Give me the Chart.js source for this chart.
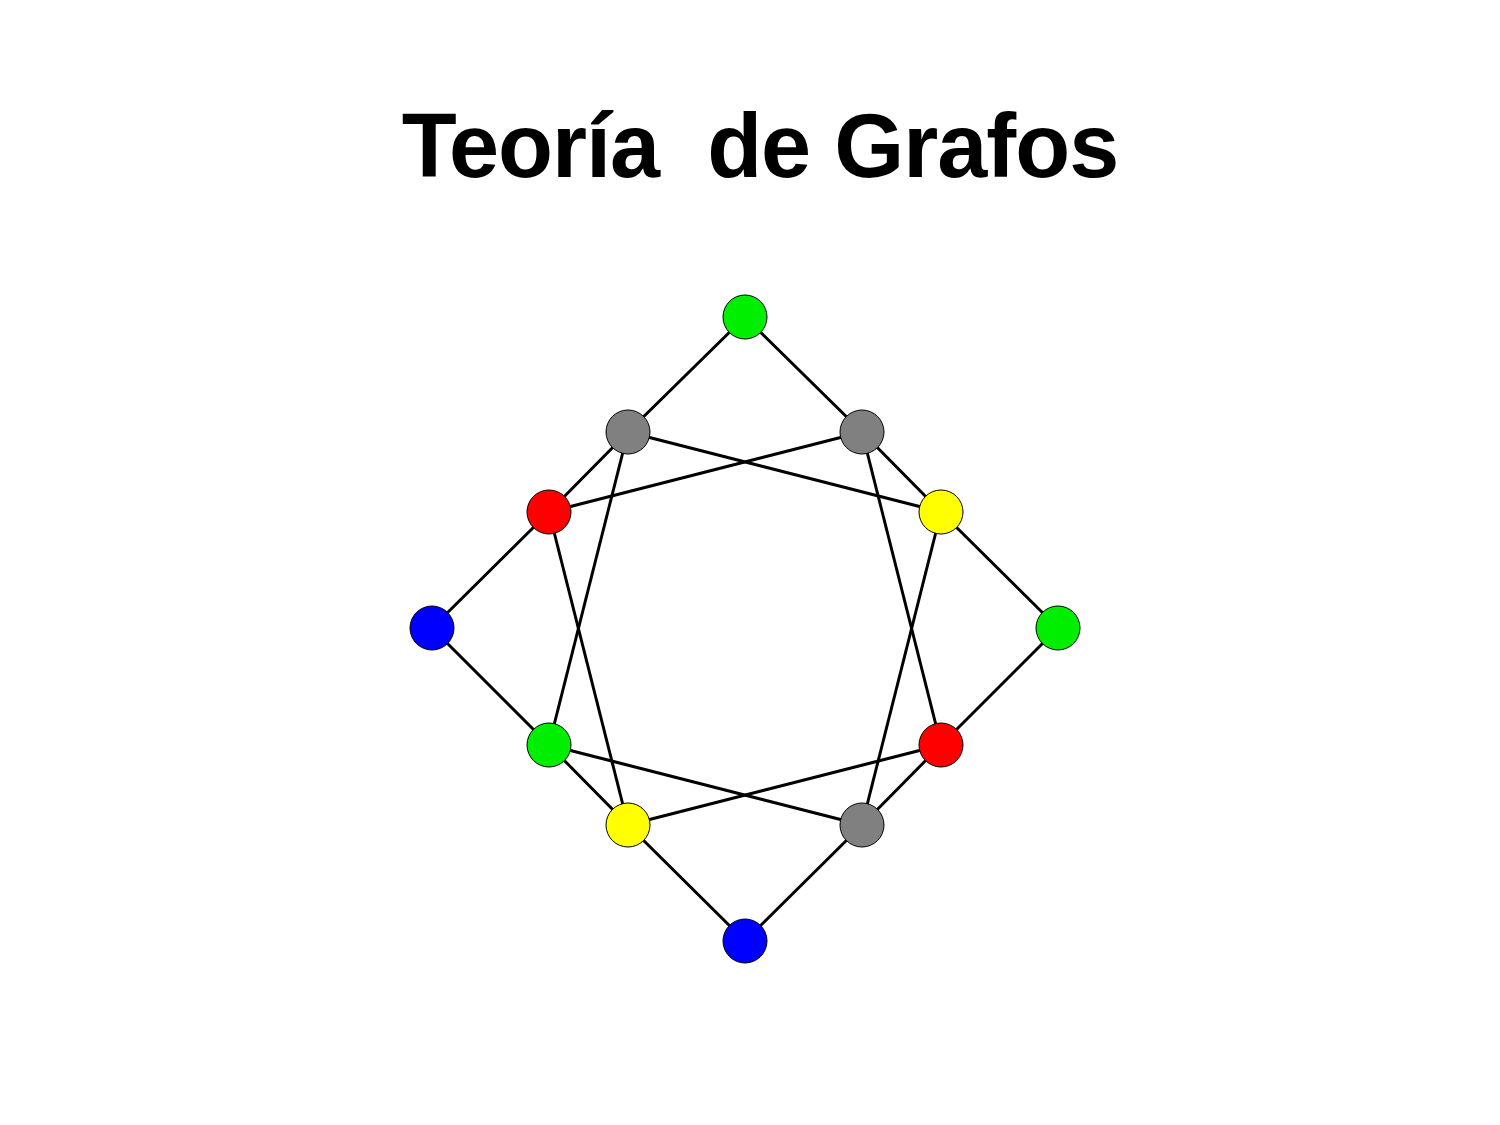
<!DOCTYPE html>
<html>
<head>
<meta charset="utf-8">
<script src="https://cdn.jsdelivr.net/npm/chart.js@4"></script>
<style>
  body { margin: 0; background: #fff; }
  #wrap { position: relative; width: 1500px; height: 1125px; }
  h1 {
    position: absolute; left: 0; top: 96px; width: 1500px; margin: 0;
    text-align: center; font-family: "Liberation Sans", Arial, sans-serif;
    font-weight: bold; font-size: 90px; line-height: 100px; color: #000;
    letter-spacing: -1px; padding-left: 10px;
  }
</style>
</head>
<body>
<div id="wrap">
  <canvas id="c" width="1500" height="1125"></canvas>
  <h1>Teoría&nbsp; de Grafos</h1>
</div>
<script>
// vertices (page coordinates), colour of each
const nodeX = [745, 628, 862, 549, 941, 432, 1058, 549, 941, 628, 862, 745];
const nodeY = [317, 432, 432, 512, 512, 628, 628, 745, 745, 825, 825, 941];
const nodeColor = ["#00ee00", "#808080", "#808080", "#ff0000", "#ffff00", "#0000ff",
                   "#00ee00", "#00ee00", "#ff0000", "#ffff00", "#808080", "#0000ff"];
// edges as pairs of vertex indices
const edgeFrom = [0, 0, 1, 3, 2, 4, 5, 7, 9, 6, 8, 10, 1, 2, 1, 3, 2, 4, 7, 9];
const edgeTo   = [1, 2, 3, 5, 4, 6, 7, 9, 11, 8, 10, 11, 4, 3, 7, 9, 8, 10, 10, 8];

const datasets = edgeFrom.map((a, i) => ({
  type: "scatter",
  data: [{ x: nodeX[a], y: nodeY[a] }, { x: nodeX[edgeTo[i]], y: nodeY[edgeTo[i]] }],
  showLine: true,
  borderColor: "#000",
  borderWidth: 3,
  pointRadius: 0,
  order: 1,
}));

datasets.push({
  type: "scatter",
  data: nodeX.map((x, i) => ({ x, y: nodeY[i] })),
  pointRadius: 22,
  pointBackgroundColor: nodeColor,
  pointBorderColor: "#000",
  pointBorderWidth: 1,
  order: 0,
});

new Chart(document.getElementById("c"), {
  type: "scatter",
  data: { datasets },
  options: {
    responsive: false,
    animation: false,
    layout: { padding: 0, autoPadding: false },
    plugins: { legend: { display: false }, tooltip: { enabled: false } },
    scales: {
      x: { type: "linear", min: 0, max: 1500, display: false },
      y: { type: "linear", min: 0, max: 1125, reverse: true, display: false },
    },
  },
});
</script>
</body>
</html>
